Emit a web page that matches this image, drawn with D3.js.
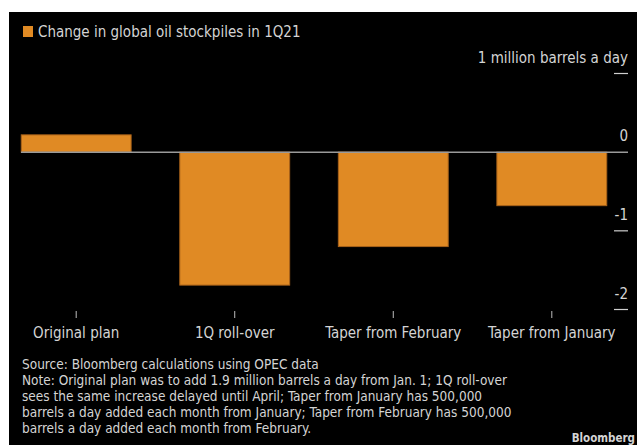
<!DOCTYPE html>
<html><head><meta charset="utf-8">
<script src="https://cdn.jsdelivr.net/npm/d3@7"></script>
<style>
html,body{margin:0;padding:0;background:#fff;}
svg{display:block;}
text{font-family:"Liberation Sans Narrow","DejaVu Sans Condensed","Roboto Condensed",sans-serif;}
</style></head>
<body>
<script>
const categories = ["Original plan", "1Q roll-over", "Taper from February", "Taper from January"];
const values = [0.22, -1.69, -1.20, -0.68];
const yTicks = [1, 0, -1, -2];
const yTickLabels = ["1 million barrels a day", "0", "-1", "-2"];
const title = "Change in global oil stockpiles in 1Q21";
const notes = [
  "Source: Bloomberg calculations using OPEC data",
  "Note: Original plan was to add 1.9 million barrels a day from Jan. 1; 1Q roll-over",
  "sees the same increase delayed until April; Taper from January has 500,000",
  "barrels a day added each month from January; Taper from February has 500,000",
  "barrels a day added each month from February."
];

const W = 637, H = 445;
const svg = d3.select("body").append("svg").attr("width", W).attr("height", H);
svg.append("rect").attr("x", 9).attr("y", 12).attr("width", W - 9).attr("height", H - 12).attr("fill", "#000");

const x = d3.scaleBand().domain(categories).range([-3, 631]).paddingInner(0.307).paddingOuter(0.153);
const y = d3.scaleLinear().domain([-2, 1]).range([309.5, 73.5]);

// legend
svg.append("rect").attr("x", 23).attr("y", 26).attr("width", 10).attr("height", 11).attr("fill", "#e08a24");
svg.append("text").attr("x", 38).attr("y", 37).attr("fill", "#d4d4d4").attr("font-size", 15).text(title);

// y ticks
const yt = svg.append("g");
yTicks.forEach((t, i) => {
  if (t !== 0) {
    yt.append("line").attr("x1", 614).attr("x2", 628).attr("y1", y(t)).attr("y2", y(t))
      .attr("stroke", "#cfcfcf").attr("stroke-width", 1.2);
  }
  yt.append("text").attr("x", 628).attr("y", y(t) - 11).attr("text-anchor", "end")
    .attr("fill", "#d4d4d4").attr("font-size", 15).text(yTickLabels[i]);
});

// bars
svg.append("g").selectAll("rect").data(values).join("rect")
  .attr("x", (d, i) => x(categories[i]))
  .attr("width", x.bandwidth())
  .attr("y", d => Math.min(y(d), y(0)))
  .attr("height", d => Math.abs(y(d) - y(0)))
  .attr("fill", "#e08a24")
  .attr("stroke", "#a8621a").attr("stroke-width", 1);

// zero line
svg.append("line").attr("x1", 21).attr("x2", 628).attr("y1", y(0)).attr("y2", y(0))
  .attr("stroke", "#9a9a9a").attr("stroke-width", 1.5);

// x axis
const xa = svg.append("g");
categories.forEach(c => {
  const cx = x(c) + x.bandwidth() / 2;
  xa.append("line").attr("x1", cx).attr("x2", cx).attr("y1", 311).attr("y2", 318)
    .attr("stroke", "#bdbdbd").attr("stroke-width", 1);
  xa.append("text").attr("x", cx).attr("y", 338).attr("text-anchor", "middle")
    .attr("fill", "#d4d4d4").attr("font-size", 15).text(c);
});

// notes
notes.forEach((n, i) => {
  svg.append("text").attr("x", 22).attr("y", 369 + i * 16).attr("fill", "#d4d4d4")
    .attr("font-size", 13.5).text(n);
});
svg.append("text").attr("x", 635).attr("y", 442).attr("text-anchor", "end").attr("fill", "#d4d4d4")
  .attr("font-family", "Liberation Sans, Arial, sans-serif")
  .attr("font-weight", "bold").attr("font-size", 11.5).text("Bloomberg");
</script>
</body></html>
